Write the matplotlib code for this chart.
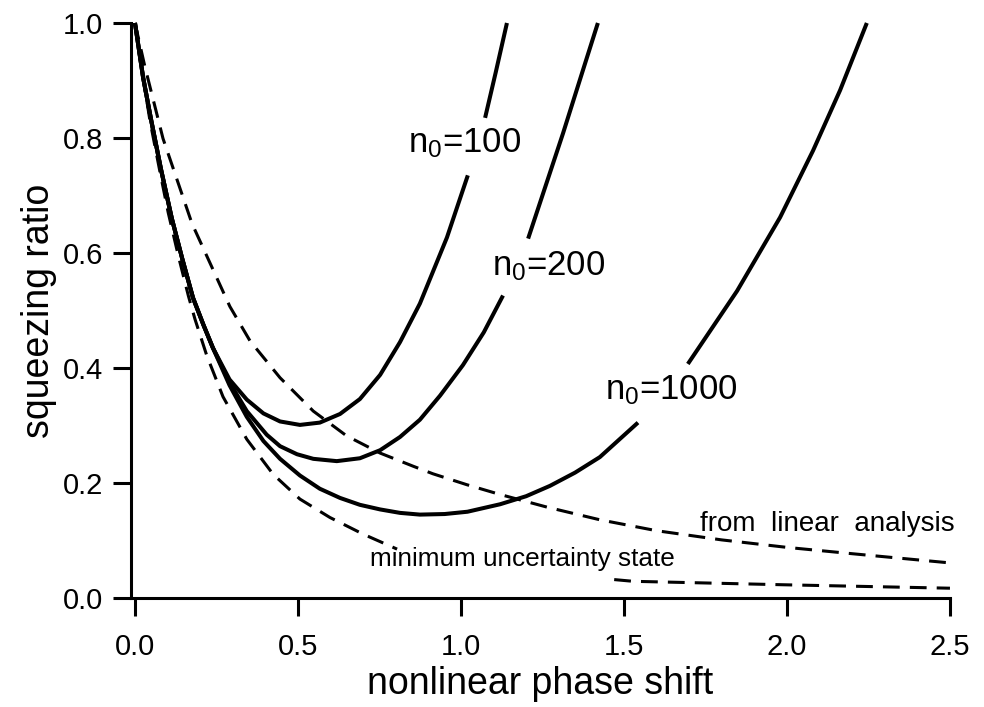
import numpy as np
import matplotlib
matplotlib.use('Agg')
import matplotlib.pyplot as plt

plt.rcParams['font.family'] = ['Liberation Sans', 'DejaVu Sans']
plt.rcParams['mathtext.fontset'] = 'custom'
plt.rcParams['mathtext.rm'] = 'Liberation Sans'
plt.rcParams['mathtext.default'] = 'regular'

nan = np.nan

# solid curves (nan = gap where the label sits)
n100_x = [0.0, 0.025, 0.05, 0.08, 0.113, 0.145, 0.178, 0.21, 0.239, 0.29, 0.343, 0.394,
          0.445, 0.506, 0.567, 0.629, 0.69, 0.752, 0.813, 0.874, 0.957, 1.021, nan,
          1.074, 1.107, 1.141]
n100_y = [1.0, 0.905, 0.83, 0.745, 0.66, 0.59, 0.522, 0.475, 0.435, 0.38, 0.345, 0.321,
          0.307, 0.301, 0.305, 0.320, 0.346, 0.388, 0.445, 0.512, 0.627, 0.735, nan,
          0.835, 0.915, 1.0]

n200_x = [0.0, 0.025, 0.05, 0.08, 0.113, 0.145, 0.178, 0.21, 0.239, 0.29, 0.343, 0.404,
          0.445, 0.497, 0.547, 0.619, 0.69, 0.752, 0.813, 0.874, 0.936, 1.006, 1.07,
          1.129, nan, 1.206, 1.313, 1.377, 1.42]
n200_y = [1.0, 0.905, 0.83, 0.745, 0.66, 0.59, 0.522, 0.475, 0.435, 0.375, 0.325, 0.284,
          0.264, 0.250, 0.242, 0.238, 0.243, 0.257, 0.28, 0.31, 0.352, 0.405, 0.462,
          0.526, nan, 0.625, 0.808, 0.923, 1.0]

n1000_x = [0.0, 0.025, 0.05, 0.08, 0.113, 0.145, 0.178, 0.21, 0.239, 0.29, 0.343, 0.394,
           0.445, 0.506, 0.567, 0.629, 0.69, 0.752, 0.813, 0.874, 0.95, 1.02, 1.12,
           1.2, 1.273, 1.35, 1.426, 1.543, nan, 1.696, 1.847, 1.979, 2.08, 2.163, 2.245]
n1000_y = [1.0, 0.905, 0.83, 0.745, 0.66, 0.59, 0.522, 0.475, 0.435, 0.37, 0.315, 0.273,
           0.242, 0.213, 0.19, 0.174, 0.162, 0.154, 0.148, 0.145, 0.146, 0.150, 0.163,
           0.177, 0.195, 0.218, 0.245, 0.305, nan, 0.407, 0.534, 0.662, 0.778, 0.883, 1.0]

# dashed curves
lin_x = [0.0, 0.03, 0.086, 0.175, 0.291, 0.353, 0.445, 0.547, 0.649, 0.752, 0.854,
         0.914, 1.018, 1.12, 1.264, 1.426, 1.6, 1.8, 2.0, 2.2, 2.5]
lin_y = [1.0, 0.925, 0.799, 0.651, 0.507, 0.447, 0.383, 0.325, 0.282, 0.252, 0.229,
         0.216, 0.197, 0.180, 0.158, 0.136, 0.117, 0.101, 0.088, 0.077, 0.061]

mus_x = [0.0, 0.015, 0.046, 0.077, 0.102, 0.133, 0.164, 0.184, 0.22, 0.27, 0.343,
         0.424, 0.506, 0.598, 0.70, 0.804, nan, 1.47, 1.528, 1.988, 2.5]
mus_y = [1.0, 0.94, 0.83, 0.74, 0.67, 0.595, 0.525, 0.485, 0.422, 0.35, 0.276,
         0.215, 0.172, 0.14, 0.111, 0.085, nan, 0.032, 0.029, 0.023, 0.017]

x_ticks = [0.0, 0.5, 1.0, 1.5, 2.0, 2.5]
x_labels = ['0.0', '0.5', '1.0', '1.5', '2.0', '2.5']
y_ticks = [0.0, 0.2, 0.4, 0.6, 0.8, 1.0]
y_labels = ['0.0', '0.2', '0.4', '0.6', '0.8', '1.0']

fig = plt.figure(figsize=(9.84, 7.07), dpi=100)
ax = fig.add_axes([0.1331, 0.1542, 0.8323, 0.8133])

for xs, ys in [(n100_x, n100_y), (n200_x, n200_y), (n1000_x, n1000_y)]:
    ax.plot(xs, ys, color='black', lw=2.9, solid_capstyle='butt', clip_on=False)
for xs, ys in [(lin_x, lin_y), (mus_x, mus_y)]:
    ax.plot(xs, ys, color='black', lw=2.2, dashes=(5.5, 3.3), clip_on=False)

ax.text(0.837, 0.775, r'n$_0$=100', fontsize=25)
ax.text(1.095, 0.561, r'n$_0$=200', fontsize=25)
ax.text(1.442, 0.346, r'n$_0$=1000', fontsize=25)
ax.text(1.733, 0.116, 'from  linear  analysis', fontsize=20)
ax.text(0.721, 0.055, 'minimum uncertainty state', fontsize=18.8)

ax.set_xlim(-0.0123, 2.5)
ax.set_ylim(0, 1.0)
ax.set_xticks(x_ticks)
ax.set_xticklabels(x_labels)
ax.set_yticks(y_ticks)
ax.set_yticklabels(y_labels)
ax.spines['top'].set_visible(False)
ax.spines['right'].set_visible(False)
ax.spines['left'].set_linewidth(2.2)
ax.spines['bottom'].set_linewidth(2.2)
ax.tick_params(direction='out', length=13, width=2.2, labelsize=21, pad=7)
ax.tick_params(axis='x', pad=12)
ax.set_xlabel('nonlinear phase shift', fontsize=27, labelpad=4)
ax.set_ylabel('squeezing ratio', fontsize=27, labelpad=4)

fig.savefig('out.png', dpi=100)
